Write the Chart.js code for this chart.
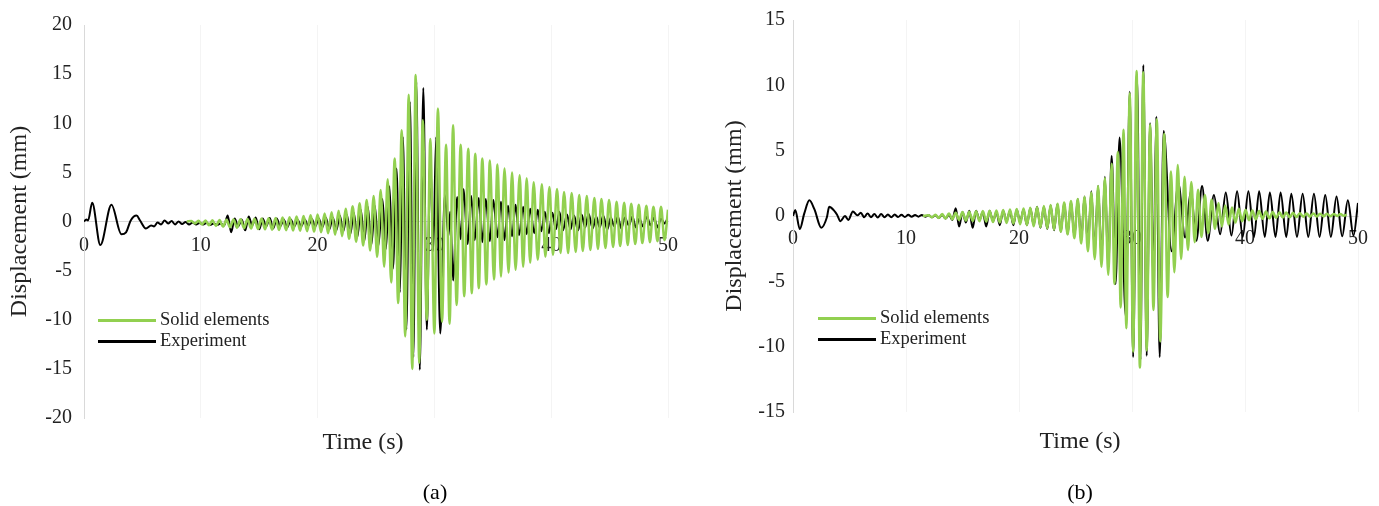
<!DOCTYPE html>
<html>
<head>
<meta charset="utf-8">
<script src="https://cdn.jsdelivr.net/npm/chart.js@4.4.1/dist/chart.umd.min.js"></script>
<style>
  html, body { margin: 0; padding: 0; background: #fff; }
  #page { position: relative; width: 1379px; height: 506px; overflow: hidden; background: #fff;
          font-family: "Liberation Serif", "Times New Roman", serif; color: #222; }
  #page canvas { position: absolute; }
  .txt { position: absolute; white-space: nowrap; line-height: 1; }
  .axis-title { font-size: 24px; transform: translate(-50%, -50%); }
  .caption { font-size: 22px; transform: translate(-50%, -50%); color: #000; }
  .legend-row { position: absolute; height: 24px; transform: translateY(-50%); }
  .legend-row .swatch { position: absolute; left: 0; top: 10.5px; width: 58px; height: 3px; }
  .legend-row .label { position: absolute; left: 62px; top: 2px; font-size: 18.5px; line-height: 1; white-space: nowrap; }
</style>
</head>
<body>
<div id="page">
  <canvas id="chartA" width="690" height="460" style="left:0;top:0"></canvas>
  <canvas id="chartB" width="689" height="460" style="left:690px;top:0"></canvas>

  <div class="txt axis-title" style="left:363px;top:441px">Time (s)</div>
  <div class="txt axis-title" style="left:1080px;top:440px">Time (s)</div>
  <div class="txt caption" style="left:435px;top:492px">(a)</div>
  <div class="txt caption" style="left:1080px;top:492px">(b)</div>

  <div id="legendA"></div>
  <div id="legendB"></div>
</div>

<script>
// ---- Series data: time (s) and displacement (mm) at each turning point ----

// Panel (a)
const solidTimeA = [
  8.8, 9.2, 9.5, 9.8, 10.1, 10.4, 10.7, 11.0, 11.3, 11.6,
  11.9, 12.2, 12.5, 12.8, 13.1, 13.4, 13.7, 14.0, 14.3, 14.6,
  14.9, 15.2, 15.5, 15.8, 16.1, 16.4, 16.7, 17.0, 17.3, 17.6,
  17.9, 18.2, 18.5, 18.8, 19.1, 19.4, 19.7, 20.0, 20.3, 20.6,
  20.9, 21.2, 21.5, 21.8, 22.1, 22.4, 22.7, 23.0, 23.3, 23.6,
  23.9, 24.2, 24.5, 24.8, 25.1, 25.4, 25.7, 26.0, 26.3, 26.6,
  26.9, 27.2, 27.5, 27.8, 28.1, 28.4, 28.7, 29.0, 29.35, 29.65,
  30.0, 30.3, 30.65, 31.0, 31.3, 31.6, 31.9, 32.25, 32.55, 32.9,
  33.2, 33.5, 33.8, 34.1, 34.45, 34.75, 35.1, 35.4, 35.7, 36.0,
  36.35, 36.65, 36.95, 37.3, 37.6, 37.9, 38.2, 38.5, 38.85, 39.2,
  39.5, 39.85, 40.15, 40.5, 40.8, 41.1, 41.45, 41.75, 42.1, 42.4,
  42.7, 43.05, 43.35, 43.7, 44.0, 44.3, 44.65, 44.95, 45.3, 45.6,
  45.9, 46.25, 46.55, 46.85, 47.2, 47.5, 47.8, 48.15, 48.45, 48.75,
  49.1, 49.4, 49.7, 50.0
];
const solidDispA = [
  0, 0.05, -0.2, 0.08, -0.3, 0.1, -0.38, 0.12, -0.45, 0.14,
  -0.52, 0.17, -0.58, 0.2, -0.63, 0.22, -0.68, 0.25, -0.72, 0.28,
  -0.76, 0.3, -0.8, 0.33, -0.83, 0.36, -0.86, 0.4, -0.88, 0.44,
  -0.91, 0.5, -0.94, 0.56, -0.98, 0.63, -1.03, 0.72, -1.1, 0.82,
  -1.2, 0.95, -1.35, 1.1, -1.5, 1.3, -1.75, 1.55, -2.05, 1.85,
  -2.45, 2.2, -2.95, 2.6, -3.6, 3.2, -4.6, 4.3, -6.2, 6.4,
  -8.3, 9.3, -11.7, 12.9, -15.0, 14.9, -14.4, 10.3, -10.0, 8.4,
  -11.4, 11.5, -10.2, 7.8, -10.4, 9.8, -8.5, 7.8, -7.6, 7.4,
  -7.3, 6.9, -6.8, 6.4, -6.4, 6.2, -5.9, 5.8, -5.6, 5.4,
  -5.2, 5.0, -4.9, 4.7, -4.6, 4.4, -4.2, 4.0, -3.9, 3.8,
  -3.6, 3.5, -3.4, 3.3, -3.2, 3.0, -3.2, 2.9, -3.1, 2.7,
  -3.0, 2.6, -2.9, 2.4, -2.8, 2.3, -2.7, 2.2, -2.6, 2.0,
  -2.5, 1.9, -2.4, 1.8, -2.3, 1.7, -2.2, 1.6, -2.1, 1.5,
  -2.0, 1.5, -1.9, 1.2
];
const expTimeA = [
  0, 0.2, 0.35, 0.7, 1.4, 2.35, 3.2, 3.6, 4.0, 4.5,
  4.8, 5.3, 5.75, 6.0, 6.3, 6.6, 6.9, 7.2, 7.5, 7.8,
  8.1, 8.4, 8.7, 9.0, 9.3, 9.6, 9.9, 10.2, 10.5, 10.8,
  11.1, 11.4, 11.7, 12.0, 12.3, 12.6, 12.9, 13.2, 13.5, 13.8,
  14.1, 14.4, 14.7, 15.0, 15.3, 15.6, 15.9, 16.2, 16.5, 16.8,
  17.1, 17.4, 17.7, 18.0, 18.3, 18.6, 18.9, 19.2, 19.5, 19.8,
  20.1, 20.4, 20.7, 21.0, 21.3, 21.6, 21.9, 22.2, 22.5, 22.8,
  23.1, 23.4, 23.7, 24.0, 24.3, 24.6, 24.9, 25.2, 25.55, 25.85,
  26.15, 26.45, 26.75, 27.05, 27.3, 27.6, 27.9, 28.2, 28.45, 28.75,
  29.05, 29.35, 29.65, 29.9, 30.15, 30.5, 30.9, 31.2, 31.35, 31.6,
  31.95, 32.25, 32.5, 32.85, 33.15, 33.45, 33.8, 34.1, 34.4, 34.75,
  35.05, 35.4, 35.7, 36.0, 36.3, 36.65, 36.95, 37.25, 37.6, 37.9,
  38.2, 38.55, 38.85, 39.15, 39.45, 39.8, 40.1, 40.4, 40.7, 41.0,
  41.35, 41.65, 41.95, 42.3, 42.6, 42.9, 43.2, 43.55, 43.85, 44.15,
  44.45, 44.8, 45.1, 45.4, 45.7, 46.0, 46.3, 46.65, 46.95, 47.25,
  47.55, 47.85, 48.2, 48.5, 48.8, 49.1, 49.4, 49.7, 50.0
];
const expDispA = [
  0, 0.2, 0.1, 1.9, -2.4, 1.7, -1.3, -1.1, 0.1, 0.6,
  0.1, -0.7, -0.4, -0.5, -0.1, -0.3, 0.1, -0.2, 0.05, -0.3,
  0.0, -0.25, -0.05, -0.3, -0.1, -0.3, -0.15, -0.3, -0.15, -0.35,
  -0.2, -0.35, -0.2, -0.4, 0.6, -1.1, 0.3, -0.5, 0.2, -0.9,
  0.5, -0.4, 0.4, -0.8, 0.3, -0.5, 0.35, -0.7, 0.3, -0.5,
  0.2, -0.6, 0.2, -0.5, 0.15, -0.5, 0.2, -0.45, 0.25, -0.5,
  0.3, -0.6, 0.4, -0.8, 0.4, -0.9, 0.6, -1.0, 0.7, -1.3,
  0.9, -1.6, 1.2, -2.0, 1.5, -2.4, 1.6, -2.5, 2.3, -2.8,
  3.6, -4.8, 5.4, -7.2, 8.6, -11.0, 12.2, -13.8, 14.2, -15.1,
  13.6, -11.0, 6.4, -3.0, 8.6, -11.4, 2.7, -1.5, 1.0, -6.0,
  2.5, -1.8, 3.3, -2.3, 2.6, -1.9, 2.4, -2.1, 2.3, -2.0,
  2.2, -1.6, 2.0, -1.9, 1.6, -1.5, 1.7, -1.4, 1.5, -1.3,
  1.3, -1.2, 1.2, -1.0, 1.0, -1.2, 0.9, -0.8, 1.0, -0.9,
  0.7, -0.8, 0.6, -0.9, 0.7, -0.6, 0.8, -0.7, 0.5, -0.6,
  0.6, -0.8, 0.4, -0.5, 0.5, -0.7, 0.4, -0.4, 0.5, -0.6,
  0.3, -0.5, 0.5, -0.4, 0.4, -0.6, 0.3, -0.2, 0.4
];

// Panel (b)
const solidTimeB = [
  11.5, 12.0, 12.3, 12.6, 12.9, 13.2, 13.5, 13.8, 14.1, 14.4,
  14.7, 15.0, 15.3, 15.6, 15.9, 16.2, 16.5, 16.8, 17.1, 17.4,
  17.7, 18.0, 18.3, 18.6, 18.9, 19.2, 19.5, 19.8, 20.1, 20.4,
  20.7, 21.0, 21.3, 21.6, 21.9, 22.2, 22.5, 22.8, 23.1, 23.4,
  23.7, 24.0, 24.3, 24.6, 24.9, 25.2, 25.5, 25.8, 26.1, 26.4,
  26.7, 27.0, 27.3, 27.6, 27.9, 28.2, 28.45, 28.75, 29.0, 29.25,
  29.5, 29.8, 30.1, 30.4, 30.7, 31.0, 31.3, 31.6, 31.9, 32.2,
  32.5, 32.85, 33.15, 33.45, 33.75, 34.05, 34.35, 34.65, 34.95, 35.25,
  35.55, 35.85, 36.15, 36.45, 36.75, 37.05, 37.35, 37.65, 37.95, 38.25,
  38.55, 38.85, 39.15, 39.45, 39.75, 40.05, 40.35, 40.65, 40.95, 41.25,
  41.55, 41.85, 42.15, 42.45, 42.75, 43.05, 43.35, 43.65, 43.95, 44.25,
  44.55, 44.85, 45.15, 45.45, 45.75, 46.05, 46.35, 46.65, 46.95, 47.25,
  47.55, 47.85, 48.15, 48.45, 48.75, 49.0
];
const solidDispB = [
  0, 0.05, -0.1, 0.1, -0.15, 0.15, -0.2, 0.2, -0.25, 0.25,
  -0.3, 0.3, -0.35, 0.33, -0.38, 0.36, -0.4, 0.38, -0.43, 0.4,
  -0.46, 0.43, -0.5, 0.46, -0.54, 0.5, -0.58, 0.54, -0.63, 0.58,
  -0.7, 0.63, -0.78, 0.69, -0.86, 0.76, -0.95, 0.84, -1.05, 0.93,
  -1.2, 1.03, -1.4, 1.15, -1.7, 1.3, -2.1, 1.45, -2.7, 1.8,
  -3.3, 2.3, -3.9, 2.9, -4.5, 4.0, -5.2, 4.9, -7.0, 6.6,
  -8.6, 9.4, -10.4, 11.1, -11.6, 11.0, -10.3, 7.0, -7.2, 7.4,
  -9.6, 6.3, -6.2, 3.4, -4.3, 3.9, -3.3, 3.0, -2.6, 2.6,
  -2.0, 2.0, -1.6, 1.6, -1.3, 1.25, -1.0, 1.0, -0.8, 0.8,
  -0.65, 0.65, -0.5, 0.55, -0.4, 0.48, -0.32, 0.42, -0.26, 0.38,
  -0.22, 0.34, -0.18, 0.3, -0.15, 0.28, -0.12, 0.26, -0.1, 0.24,
  -0.08, 0.22, -0.06, 0.2, -0.05, 0.19, -0.04, 0.18, -0.03, 0.17,
  -0.02, 0.16, 0.0, 0.15, 0.02, 0.1
];
const expTimeB = [
  0, 0.2, 0.6, 1.0, 1.45, 1.9, 2.5, 3.0, 3.2, 3.6,
  3.9, 4.2, 4.6, 4.9, 5.3, 5.7, 6.0, 6.3, 6.6, 6.9,
  7.2, 7.5, 7.8, 8.1, 8.4, 8.7, 9.0, 9.3, 9.6, 9.9,
  10.2, 10.5, 10.8, 11.1, 11.4, 11.7, 12.0, 12.3, 12.6, 12.9,
  13.2, 13.5, 13.8, 14.1, 14.4, 14.7, 15.0, 15.3, 15.6, 15.9,
  16.2, 16.5, 16.8, 17.1, 17.4, 17.7, 18.0, 18.3, 18.6, 18.9,
  19.2, 19.5, 19.8, 20.1, 20.4, 20.7, 21.0, 21.3, 21.6, 21.9,
  22.2, 22.5, 22.8, 23.1, 23.4, 23.7, 24.0, 24.3, 24.6, 24.9,
  25.2, 25.5, 25.8, 26.1, 26.4, 26.7, 27.0, 27.3, 27.6, 27.9,
  28.2, 28.55, 28.9, 29.45, 29.8, 30.1, 30.45, 30.75, 31.0, 31.3,
  31.6, 31.9, 32.15, 32.45, 32.8, 33.5, 34.1, 34.7, 35.2, 35.7,
  36.2, 36.7, 37.25, 37.8, 38.3, 38.8, 39.3, 39.8, 40.3, 40.8,
  41.25, 41.75, 42.2, 42.7, 43.15, 43.65, 44.1, 44.6, 45.1, 45.6,
  46.1, 46.6, 47.1, 47.6, 48.1, 48.6, 49.1, 49.6, 50.0
];
const expDispB = [
  0, 0.45, -1.0, 0.2, 1.2, 0.5, -0.9, -0.1, 0.7, 0.45,
  0.1, -0.4, 0.0, -0.3, 0.35, 0.05, 0.25, -0.1, 0.2, -0.1,
  0.15, -0.12, 0.15, -0.1, 0.12, -0.1, 0.12, -0.08, 0.1, -0.08,
  0.1, -0.06, 0.08, -0.05, 0.08, -0.05, 0.06, -0.1, 0.05, -0.15,
  0.1, -0.2, 0.1, -0.3, 0.6, -0.8, 0.3, -0.5, 0.4, -0.9,
  0.4, -0.3, 0.3, -0.8, 0.4, -0.4, 0.3, -0.7, 0.4, -0.4,
  0.4, -0.7, 0.5, -0.5, 0.5, -0.7, 0.6, -0.7, 0.7, -0.9,
  0.7, -1.0, 0.8, -1.1, 0.9, -1.2, 1.0, -1.4, 1.1, -1.6,
  1.3, -1.9, 1.5, -2.3, 1.9, -2.7, 2.3, -3.2, 3.0, -4.0,
  4.6, -5.2, 6.0, -7.7, 9.5, -10.8, 10.6, -11.0, 11.55, -10.7,
  7.1, -4.8, 7.6, -10.8, 6.5, -2.7, 2.5, -1.65, 1.9, -1.9,
  2.3, -1.9, 1.6, -1.4, 1.8, -1.5, 1.9, -1.6, 1.9, -1.6,
  1.9, -1.6, 1.8, -1.6, 1.8, -1.6, 1.7, -1.6, 1.7, -1.6,
  1.7, -1.6, 1.6, -1.6, 1.5, -1.55, 1.2, -1.5, 1.0
];

// Axis ranges
const timeRange = [0, 50];
const timeStep = 10;
const dispRangeA = [-20, 20];
const dispRangeB = [-15, 15];
const dispStep = 5;

const seriesNames = ['Solid elements', 'Experiment'];
const seriesColors = ['#92d050', '#000000'];

// ---- Drawing ----
const FONT = '"Liberation Serif", "Times New Roman", serif';
const TEXT = '#222222';
const AXIS_LINE = '#d9d9d9';

function points(times, values) {
  return times.map((t, i) => ({ x: t, y: values[i] }));
}

function buildChart(canvasId, solid, exp, range, frame) {
  return new Chart(document.getElementById(canvasId), {
    type: 'line',
    data: {
      datasets: [
        { label: seriesNames[0], data: solid, borderColor: seriesColors[0], borderWidth: 2.5,
          pointRadius: 0, fill: false, cubicInterpolationMode: 'monotone' },
        { label: seriesNames[1], data: exp, borderColor: seriesColors[1], borderWidth: 2,
          pointRadius: 0, fill: false, cubicInterpolationMode: 'monotone' }
      ]
    },
    options: {
      responsive: false,
      animation: false,
      devicePixelRatio: 1,
      layout: { padding: frame.padding },
      plugins: { legend: { display: false }, tooltip: { enabled: false } },
      scales: {
        x: {
          type: 'linear', min: timeRange[0], max: timeRange[1],
          position: { y: 0 },
          ticks: { stepSize: timeStep, color: TEXT, padding: frame.xTickPad, maxRotation: 0,
                   font: { family: FONT, size: 20 } },
          grid: { color: 'rgba(0,0,0,0.045)', drawTicks: false },
          border: { display: true, color: AXIS_LINE, width: 1 }
        },
        y: {
          type: 'linear', min: range[0], max: range[1],
          ticks: { stepSize: dispStep, color: TEXT, padding: frame.yTickPad,
                   font: { family: FONT, size: 20 } },
          grid: { display: false, drawTicks: false },
          border: { display: true, color: AXIS_LINE, width: 1 },
          title: { display: true, text: 'Displacement (mm)', color: TEXT,
                   font: { family: FONT, size: 24 }, padding: { top: frame.titlePad, bottom: 0 } },
          afterFit(scale) { scale.width = frame.axisWidth; }
        }
      }
    }
  });
}

buildChart('chartA', points(solidTimeA, solidDispA), points(expTimeA, expDispA), dispRangeA, {
  padding: { top: 25, bottom: 42, left: 0, right: 18 },
  axisWidth: 84, titlePad: 5, yTickPad: 12, xTickPad: 12
});
buildChart('chartB', points(solidTimeB, solidDispB), points(expTimeB, expDispB), dispRangeB, {
  padding: { top: 18, bottom: 48, left: 0, right: 19 },
  axisWidth: 103, titlePad: 30, yTickPad: 8, xTickPad: 11
});

// Legends inside each plot
function buildLegend(id, left, top) {
  const host = document.getElementById(id);
  seriesNames.forEach((name, i) => {
    const row = document.createElement('div');
    row.className = 'legend-row';
    row.style.left = left + 'px';
    row.style.top = (top + i * 21) + 'px';
    row.style.width = '200px';
    const sw = document.createElement('div');
    sw.className = 'swatch';
    sw.style.background = seriesColors[i];
    const lb = document.createElement('div');
    lb.className = 'label';
    lb.textContent = name;
    row.appendChild(sw);
    row.appendChild(lb);
    host.appendChild(row);
  });
}
buildLegend('legendA', 98, 320);
buildLegend('legendB', 818, 318);
</script>
</body>
</html>
